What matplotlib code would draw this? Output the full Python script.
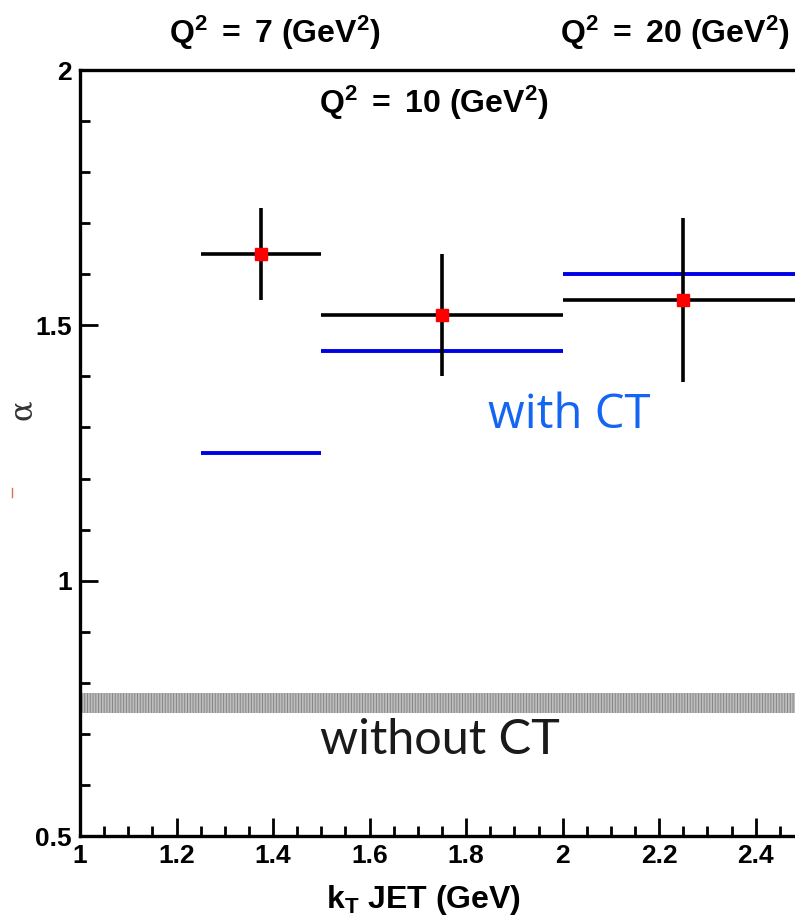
import matplotlib
matplotlib.use("Agg")
import matplotlib.pyplot as plt
from matplotlib.lines import Line2D
from matplotlib.ticker import MultipleLocator, FuncFormatter

plt.rcParams['mathtext.fontset'] = 'custom'
plt.rcParams['mathtext.bf'] = 'Liberation Sans:bold'
plt.rcParams['mathtext.rm'] = 'Liberation Sans'
plt.rcParams['mathtext.it'] = 'Liberation Sans:italic'
plt.rcParams['hatch.linewidth'] = 0.7

# data
bin_lo = [1.25, 1.5, 2.0]
bin_hi = [1.5, 2.0, 2.5]
alpha_meas = [1.64, 1.52, 1.55]
alpha_err = [0.09, 0.12, 0.16]
alpha_ct = [1.25, 1.45, 1.60]
no_ct_band = [0.74, 0.78]
q2_labels = [r"$\mathbf{Q^2\ =\ 7\ (GeV^2)}$", r"$\mathbf{Q^2\ =\ 10\ (GeV^2)}$", r"$\mathbf{Q^2\ =\ 20\ (GeV^2)}$"]

centers = [(a + b) / 2 for a, b in zip(bin_lo, bin_hi)]
halfw = [(b - a) / 2 for a, b in zip(bin_lo, bin_hi)]

W, H = 795, 922
fig = plt.figure(figsize=(W / 100, H / 100), dpi=100)
ax = fig.add_axes([80 / W, (H - 836) / H, (804 - 80) / W, (836 - 70) / H])
ax.set_xlim(1, 2.5)
ax.set_ylim(0.5, 2)

# band without CT
ax.fill_between([1.0, 2.5], no_ct_band[0], no_ct_band[1], facecolor='#bdbdbd',
                edgecolor='#858585', hatch='||||||', linewidth=0, zorder=1)

# CT predictions
ax.hlines(alpha_ct, bin_lo, bin_hi, colors='#0000e8', linewidth=2.8, zorder=2)

# measurements
ax.errorbar(centers, alpha_meas, xerr=halfw, yerr=alpha_err, fmt='s', color='#ff0000',
            markersize=9, mec='#ff0000', ecolor='black', elinewidth=2.6, capsize=0, zorder=3)

ax.text(1.845, 1.324, 'with CT', color='#1565f5', fontsize=34, family='Open Sans',
        ha='left', va='center')
ax.text(1.497, 0.688, 'without CT', color='#1a1a1a', fontsize=35, family='Lato',
        ha='left', va='center')

for s in ax.spines.values():
    s.set_linewidth(2.4)
ax.spines['right'].set_visible(False)

ax.xaxis.set_major_locator(MultipleLocator(0.2))
ax.xaxis.set_minor_locator(MultipleLocator(0.05))
ax.yaxis.set_major_locator(MultipleLocator(0.5))
ax.yaxis.set_minor_locator(MultipleLocator(0.1))
ax.tick_params(which='both', direction='in', top=False, right=False, width=2)
ax.tick_params(which='major', length=13, labelsize=19, pad=6)
ax.tick_params(which='minor', length=7)
fmt = FuncFormatter(lambda v, p: ('%g' % round(v, 2)))
ax.xaxis.set_major_formatter(fmt)
ax.yaxis.set_major_formatter(fmt)
for lab in ax.get_xticklabels() + ax.get_yticklabels():
    lab.set_fontfamily('Liberation Sans')
    lab.set_fontweight('bold')

fig.text(423 / W, 1 - 900 / H, r"$\mathbf{k_T}$" + " JET (GeV)", fontsize=23,
         fontweight='bold', family='Liberation Sans', ha='center', va='center')

fig.text(22 / W, 1 - 410 / H, 'α', rotation=90, fontsize=22, family='DejaVu Serif',
         color='#333333', ha='center', va='center')

fig.text(275 / W, 1 - 33 / H, q2_labels[0], fontsize=23, ha='center', va='center')
fig.text(434 / W, 1 - 103 / H, q2_labels[1], fontsize=23, ha='center', va='center')
fig.text(675 / W, 1 - 33 / H, q2_labels[2], fontsize=23, ha='center', va='center')

fig.add_artist(Line2D([12 / W, 12 / W], [1 - 488 / H, 1 - 497 / H], color='#e07050', lw=1))

fig.savefig('out.png', dpi=100)
